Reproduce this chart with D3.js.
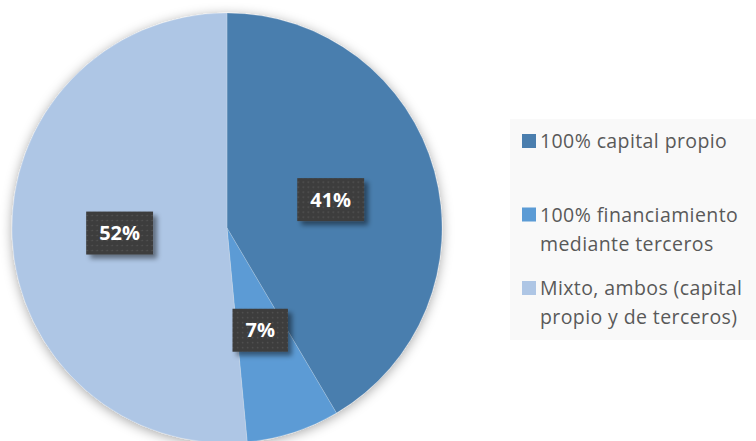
<!DOCTYPE html>
<html>
<head>
<meta charset="utf-8">
<script src="https://cdn.jsdelivr.net/npm/d3@7"></script>
<style>
	html, body { margin: 0; padding: 0; background: #fff; }
	svg { display: block; }
</style>
</head>
<body>
<div id="chart"></div>
<script>

// data
var categories = ["100% capital propio", "100% financiamiento mediante terceros", "Mixto, ambos (capital propio y de terceros)"];
var legendLines = [["100% capital propio"], ["100% financiamiento", "mediante terceros"], ["Mixto, ambos (capital", "propio y de terceros)"]];
var values = [41.5, 7.0, 51.5];
var valueLabels = ["41%", "7%", "52%"];
var colors = ["#4a7eae", "#5b9bd5", "#aec6e5"];

var width = 756, height = 441;
var cx = 227, cy = 228, radius = 215;
var fontFamily = "'Open Sans', 'Noto Sans', sans-serif";

var svg = d3.select("#chart").append("svg")
	.attr("width", width)
	.attr("height", height);

var defs = svg.append("defs");

// soft shadow round the pie
var pieShadow = defs.append("filter")
	.attr("id", "pieShadow")
	.attr("x", "-20%").attr("y", "-20%")
	.attr("width", "140%").attr("height", "140%");
pieShadow.append("feDropShadow")
	.attr("dx", 0).attr("dy", 2)
	.attr("stdDeviation", 6)
	.attr("flood-color", "#000")
	.attr("flood-opacity", 0.35);

// shadow behind the label boxes
var boxShadow = defs.append("filter")
	.attr("id", "boxShadow")
	.attr("x", "-30%").attr("y", "-30%")
	.attr("width", "170%").attr("height", "170%");
boxShadow.append("feDropShadow")
	.attr("dx", 4).attr("dy", 4)
	.attr("stdDeviation", 2.5)
	.attr("flood-color", "#000")
	.attr("flood-opacity", 0.45);

// dotted fill of the label boxes
var dots = defs.append("pattern")
	.attr("id", "dots")
	.attr("patternUnits", "userSpaceOnUse")
	.attr("width", 5).attr("height", 5);
dots.append("rect")
	.attr("width", 5).attr("height", 5)
	.attr("fill", "#3d3d3d");
dots.append("circle")
	.attr("cx", 2.5).attr("cy", 2.5).attr("r", 0.8)
	.attr("fill", "#585858");

// pie
var pie = d3.pie().sort(null).value(function(d){ return d; });
var arcs = pie(values);
var arc = d3.arc().innerRadius(0).outerRadius(radius);
var labelArc = d3.arc().innerRadius(0).outerRadius(radius);

var pieGroup = svg.append("g")
	.attr("transform", "translate(" + cx + "," + cy + ")");

pieGroup.append("g")
	.attr("filter", "url(#pieShadow)")
	.selectAll("path")
	.data(arcs)
	.enter().append("path")
	.attr("d", arc)
	.attr("fill", function(d, i){ return colors[i]; })
	.attr("stroke", "#ffffff")
	.attr("stroke-opacity", 0.25)
	.attr("stroke-width", 0.75);

// data labels
var labels = pieGroup.selectAll("g.label")
	.data(arcs)
	.enter().append("g")
	.attr("class", "label")
	.attr("transform", function(d){
		var c = labelArc.centroid(d);
		return "translate(" + c[0] + "," + c[1] + ")";
	});

labels.each(function(d, i){
	var g = d3.select(this);
	var txt = g.append("text")
		.attr("text-anchor", "middle")
		.attr("dy", "0.36em")
		.attr("font-family", fontFamily)
		.attr("font-weight", "bold")
		.attr("font-size", 20)
		.attr("fill", "#ffffff")
		.text(valueLabels[i]);
	var w = txt.node().getComputedTextLength() + 26;
	var h = 43;
	g.insert("rect", "text")
		.attr("x", -w / 2)
		.attr("y", -h / 2)
		.attr("width", w)
		.attr("height", h)
		.attr("fill", "url(#dots)")
		.attr("filter", "url(#boxShadow)");
});

// legend
var legend = svg.append("g");
legend.append("rect")
	.attr("x", 510)
	.attr("y", 119)
	.attr("width", width - 510)
	.attr("height", 221)
	.attr("fill", "#f9f9f9");

var rowY = d3.scalePoint()
	.domain(categories)
	.range([148, 295]);

var items = legend.selectAll("g.item")
	.data(categories)
	.enter().append("g")
	.attr("class", "item")
	.attr("transform", function(d){ return "translate(0," + rowY(d) + ")"; });

items.append("rect")
	.attr("x", 522)
	.attr("y", -14)
	.attr("width", 14)
	.attr("height", 14)
	.attr("fill", function(d, i){ return colors[i]; });

items.each(function(d, i){
	var t = d3.select(this).append("text")
		.attr("x", 540)
		.attr("font-family", fontFamily)
		.attr("font-size", 19.5)
		.attr("letter-spacing", 0.4)
		.attr("fill", "#595959");
	legendLines[i].forEach(function(line, j){
		t.append("tspan")
			.attr("x", 540)
			.attr("y", j * 29)
			.text(line);
	});
});

</script>
</body>
</html>
